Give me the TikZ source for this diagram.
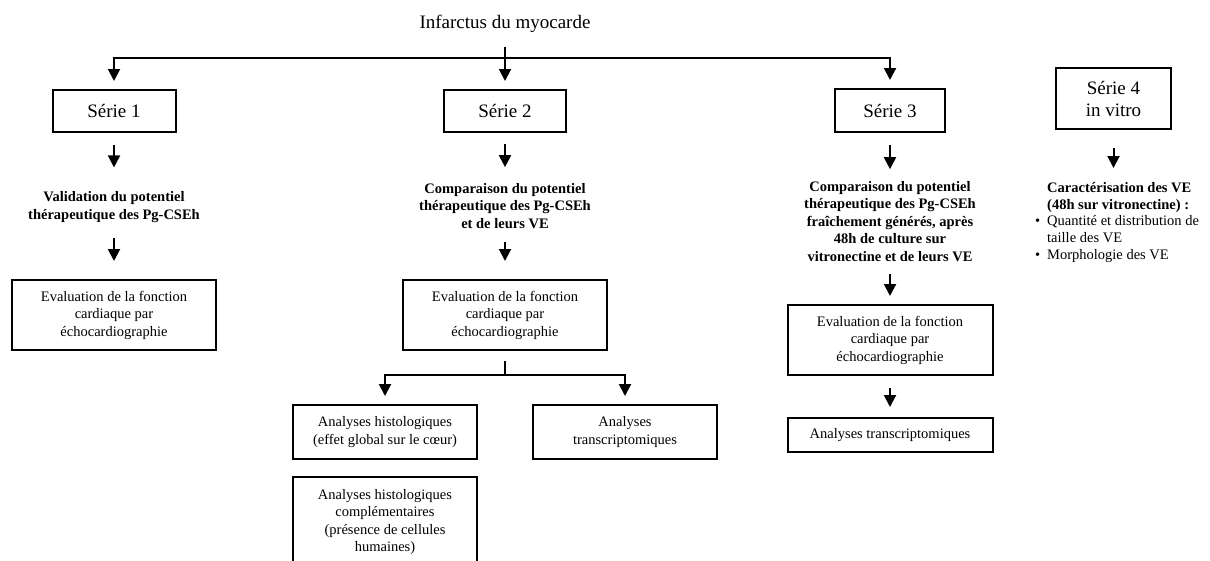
\documentclass[tikz,border=0pt]{standalone}
\usepackage{fontspec}
\setmainfont{Liberation Serif}
\usetikzlibrary{arrows.meta}
\newcommand\bodyf{\fontsize{14.5}{17.5}\selectfont}
\newcommand\serf{\fontsize{19}{22}\selectfont}
\newcommand\smallf{\fontsize{14.5}{16.8}\selectfont}
\begin{document}
\begin{tikzpicture}[x=1pt,y=-1pt,
  box/.style={draw, line width=2pt, align=center, inner sep=0pt, font=\bodyf},
  sbox/.style={box, font=\serf},
  txt/.style={align=center, inner sep=0pt, font=\bodyf\bfseries},
  conn/.style={line width=2pt},
  arr/.style={conn, -{Triangle[length=12pt,width=12pt]}}]
\clip (0,0) rectangle (1210,560);
\fill[white] (0,0) rectangle (1210,560);

% title and series
\node[font=\serf, inner sep=0pt] (title) at (505,24) {Infarctus du myocarde};
\node[sbox, minimum width=123pt, minimum height=42pt] (s1) at (114,111) {Série 1};
\node[sbox, minimum width=122pt, minimum height=42pt] (s2) at (505,111) {Série 2};
\node[sbox, minimum width=110pt, minimum height=43pt] (s3) at (890,110.5) {Série 3};
\node[sbox, minimum width=115pt, minimum height=61pt] (s4) at (1113.5,98.5) {Série 4\\in vitro};

\coordinate (top) at (505,47);
\coordinate (hl) at (114,58);
\coordinate (hr) at (890,58);
\draw[arr, shorten >=8pt] (hr) -- (hl) -- (s1);
\draw[arr, shorten >=8pt] (hl) -- (hr) -- (s3);
\draw[arr, shorten >=8pt] (top) -- (s2);

% bold descriptions
\node[txt] (v1) at (114,207) {Validation du potentiel\\thérapeutique des Pg-CSEh};
\node[txt] (v2) at (505,206) {Comparaison du potentiel\\thérapeutique des Pg-CSEh\\et de leurs VE};
\node[txt] (v3) at (890,221.5) {Comparaison du potentiel\\thérapeutique des Pg-CSEh\\fraîchement générés, après\\48h de culture sur\\vitronectine et de leurs VE};
\node[align=left, inner sep=0pt, font=\smallf, anchor=north west] (c4) at (1047,182) {\textbf{Caractérisation des VE}\\\textbf{(48h sur vitronectine) :}\\\llap{\textbullet\hspace{7pt}}Quantité et distribution de\\taille des VE\\\llap{\textbullet\hspace{7pt}}Morphologie des VE};

\draw[arr, shorten <=12pt, shorten >=24pt] (s1.south) -- (v1.north);
\draw[arr, shorten <=11pt, shorten >=16pt] (s2.south) -- (v2.north);
\draw[arr, shorten <=12pt, shorten >=12pt] (s3.south) -- (v3.north);
\draw[arr, shorten <=18pt, shorten >=14pt] (s4.south) -- (s4.south |- c4.north);

% evaluation boxes
\node[box, minimum width=204pt, minimum height=70pt] (e1) at (114,315) {Evaluation de la fonction\\cardiaque par\\échocardiographie};
\node[box, minimum width=204pt, minimum height=70pt] (e2) at (505,315) {Evaluation de la fonction\\cardiaque par\\échocardiographie};
\node[box, minimum width=205pt, minimum height=70pt] (e3) at (890,340) {Evaluation de la fonction\\cardiaque par\\échocardiographie};
\node[box, minimum width=205pt, minimum height=34pt] (a3) at (890,435) {Analyses transcriptomiques};

\draw[arr, shorten <=15pt, shorten >=18pt] (v1.south) -- (e1.north);
\draw[arr, shorten <=13pt, shorten >=18pt] (v2.south) -- (e2.north);
\draw[arr, shorten <=12pt, shorten >=8pt] (v3.south) -- (e3.north);
\draw[arr, shorten <=12pt, shorten >=10pt] (e3.south) -- (a3.north);

% series 2 analyses
\node[box, minimum width=184pt, minimum height=54pt] (h1) at (385,432) {Analyses histologiques\\(effet global sur le cœur)};
\node[box, minimum width=184pt, minimum height=54pt] (t1) at (625,432) {Analyses\\transcriptomiques};
\node[box, minimum width=184pt, minimum height=90pt] (h2) at (385,522) {Analyses histologiques\\complémentaires\\(présence de cellules\\humaines)};

\coordinate (br) at (505,375);
\draw[conn, shorten <=10pt] (e2.south) -- (br);
\draw[arr, shorten >=8pt] (br) -| (h1.north);
\draw[arr, shorten >=8pt] (br) -| (t1.north);
\end{tikzpicture}
\end{document}
